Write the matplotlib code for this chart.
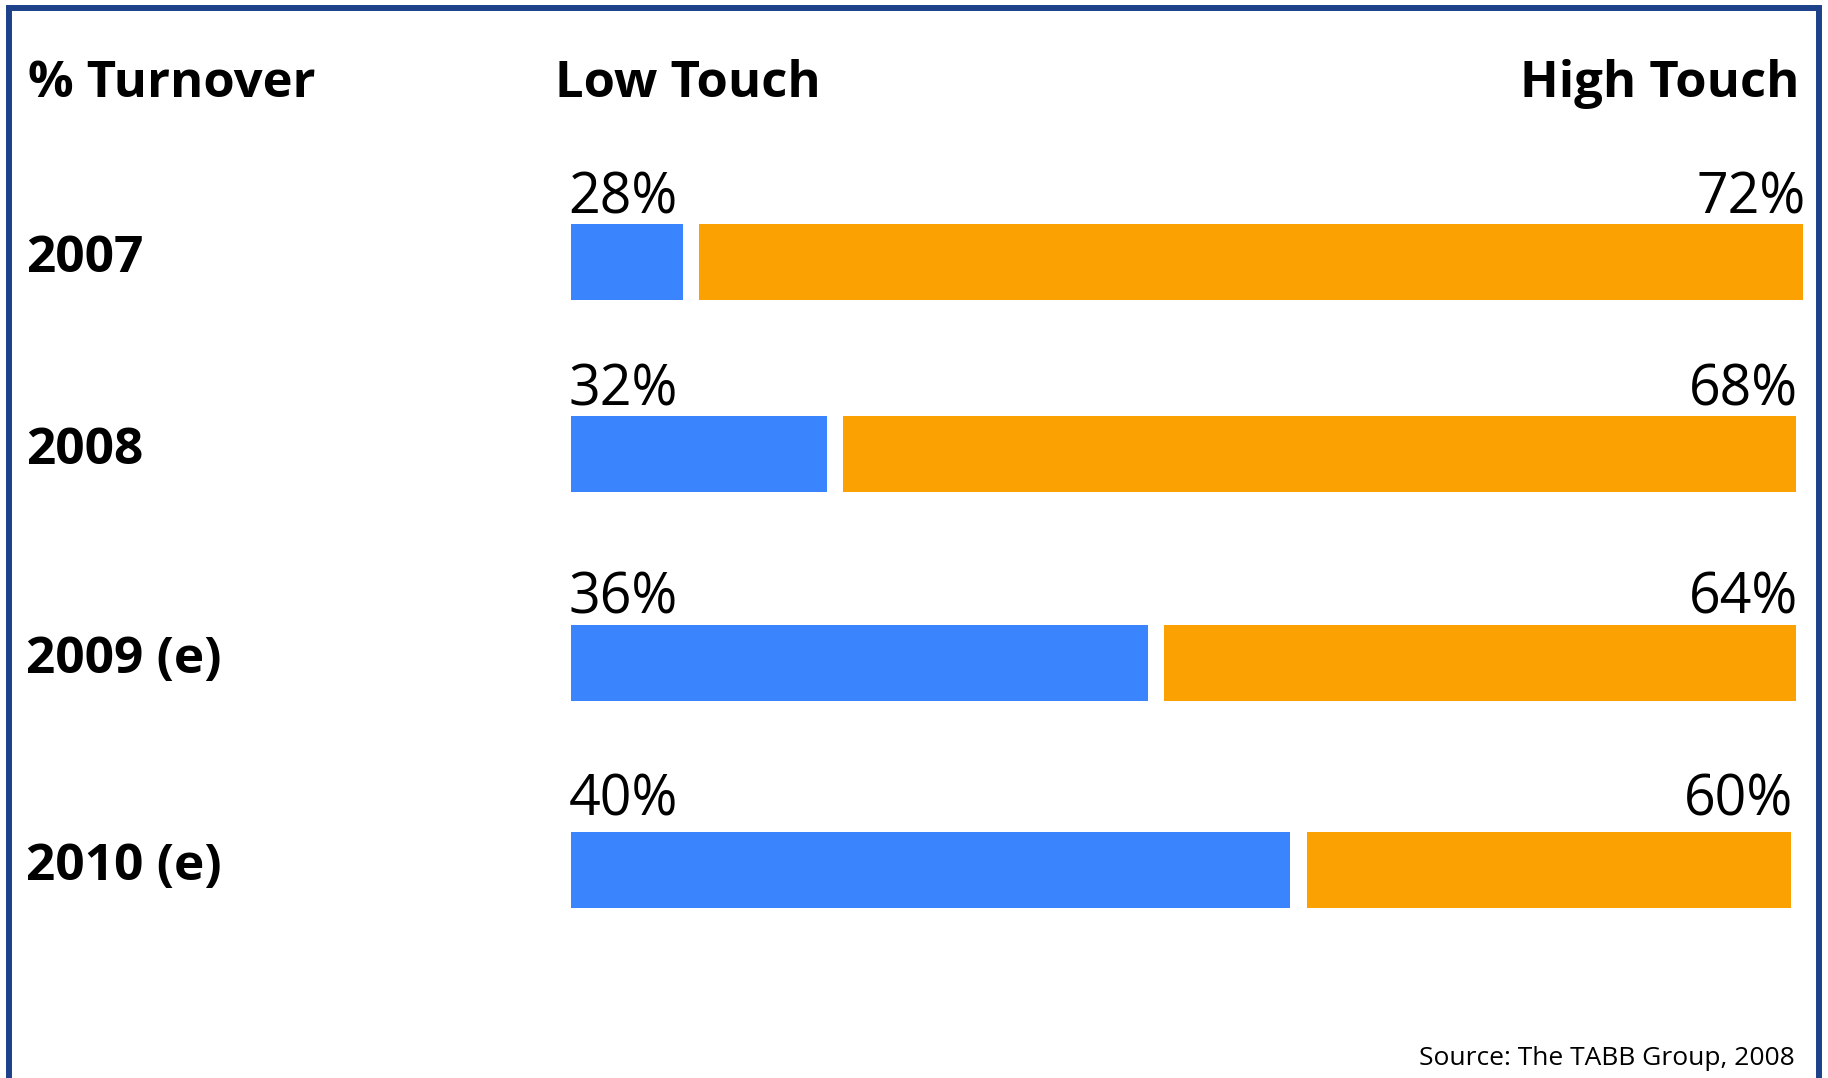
import matplotlib
matplotlib.use("Agg")
import matplotlib.pyplot as plt
from matplotlib.patches import Rectangle

# данные
years = ['2007', '2008', '2009 (e)', '2010 (e)']
low_touch = [28, 32, 36, 40]
high_touch = [72, 68, 64, 60]
# длины полос в том виде, как они нарисованы на исходнике (шкала 0..100)
low_bar_end = [9.1, 20.8, 46.8, 58.4]
high_bar_end = [100.0, 99.4, 99.4, 99.0]

blue = '#3a84fe'
orange = '#fba102'
border = '#1d428a'

plt.rcParams['font.family'] = ['Open Sans', 'DejaVu Sans']

fig = plt.figure(figsize=(18.28, 10.78), dpi=100)
ax = fig.add_axes([0, 0, 1, 1])
ax.set_xlim(-46.35, 102.03)
ax.set_ylim(1078, 0)
ax.axis('off')

row_y = [262, 454, 663, 870]
bar_h = 76
gap = 1.3

for i in range(len(years)):
    y = row_y[i]
    ax.barh(y, low_bar_end[i], height=bar_h, left=0, color=blue)
    start = low_bar_end[i] + gap
    ax.barh(y, high_bar_end[i] - start, height=bar_h, left=start, color=orange)
    top = y - bar_h / 2
    off = 11 if i < 3 else 16
    ax.text(-0.2, top - off, f'{low_touch[i]}%', fontsize=40, ha='left', va='baseline')
    ax.text(high_bar_end[i] + 0.2, top - off, f'{high_touch[i]}%', fontsize=40,
            ha='right', va='baseline')
    ax.text(26 / 1828, y + 10, years[i], transform=ax.get_yaxis_transform(),
            fontsize=37, fontweight='bold', ha='left', va='baseline')

tr = ax.get_yaxis_transform()
ax.text(28 / 1828, 97, '% Turnover', transform=tr, fontsize=36.5, fontweight='bold', va='baseline')
ax.text(555 / 1828, 97, 'Low Touch', transform=tr, fontsize=36.5, fontweight='bold', va='baseline')
ax.text(1800 / 1828, 97, 'High Touch', transform=tr, fontsize=36.5, fontweight='bold',
        ha='right', va='baseline')
ax.text(1795 / 1828, 1065, 'Source: The TABB Group, 2008', transform=tr, fontsize=19,
        ha='right', va='baseline')

# рамка
fig.patches.append(Rectangle((9 / 1828, -0.05), (1819 - 9) / 1828, 1.05 - 8 / 1078,
                             transform=fig.transFigure, fill=False,
                             edgecolor=border, linewidth=4.3))

fig.savefig('out.png', dpi=100)
